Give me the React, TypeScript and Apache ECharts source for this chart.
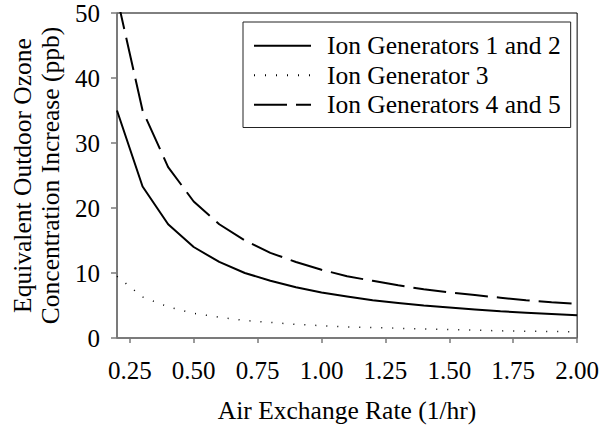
import React, { useEffect, useRef } from "react";
import * as echarts from "echarts";

const rates = [0.2, 0.3, 0.4, 0.5, 0.6, 0.7, 0.8, 0.9, 1.0, 1.1, 1.2, 1.3, 1.4, 1.5, 1.6, 1.7, 1.8, 1.9, 2.0];
const gen12 = [35, 23.3, 17.5, 14, 11.7, 10, 8.8, 7.8, 7, 6.4, 5.8, 5.4, 5, 4.7, 4.4, 4.1, 3.9, 3.7, 3.5];
const gen3 = [9.5, 6.3, 4.8, 3.8, 3.2, 2.7, 2.4, 2.1, 1.9, 1.7, 1.6, 1.5, 1.4, 1.3, 1.2, 1.1, 1.05, 1.0, 0.95];
const gen45 = [52.5, 35, 26.3, 21, 17.5, 15, 13.1, 11.7, 10.5, 9.5, 8.8, 8.1, 7.5, 7, 6.6, 6.2, 5.8, 5.5, 5.25];
const xTicks = [0.25, 0.5, 0.75, 1.0, 1.25, 1.5, 1.75, 2.0];
const seriesNames = ["Ion Generators 1 and 2", "Ion Generator 3", "Ion Generators 4 and 5"];

const FONT = "Liberation Serif";

export default function App() {
  const ref = useRef<HTMLDivElement>(null);
  useEffect(() => {
    if (!ref.current) return;
    const chart = echarts.init(ref.current, undefined, { renderer: "svg" });
    const pair = (vals: number[]) => rates.map((r, i) => [r, vals[i]]);
    const axisColor = "#7a7a7a";
    chart.setOption({
      animation: false,
      backgroundColor: "#fff",
      textStyle: { fontFamily: FONT, color: "#000" },
      grid: {
        left: 116,
        top: 13,
        right: 24,
        bottom: 90,
        show: true,
        borderColor: "#000",
        borderWidth: 1,
        backgroundColor: "transparent",
      },
      legend: {
        orient: "vertical",
        left: 243,
        top: 22,
        padding: [9, 10, 8, 10],
        itemGap: 0,
        itemWidth: 57,
        itemHeight: 14,
        borderColor: "#222",
        borderWidth: 1,
        backgroundColor: "#fff",
        itemStyle: { opacity: 0 },
        textStyle: {
          fontFamily: FONT,
          fontSize: 25.5,
          color: "#000",
          lineHeight: 29.5,
          padding: [0, 0, 0, 11],
        },
        data: seriesNames,
      },
      xAxis: {
        type: "value",
        min: 0.2,
        max: 2.0,
        name: "Air Exchange Rate (1/hr)",
        nameLocation: "middle",
        nameGap: 59,
        nameTextStyle: { fontFamily: FONT, fontSize: 25.5, color: "#000" },
        axisLine: { show: true, lineStyle: { color: axisColor, width: 1.5 } },
        axisTick: { show: true, inside: false, length: 5, customValues: xTicks, lineStyle: { color: axisColor, width: 1.5 } },
        axisLabel: {
          customValues: xTicks,
          formatter: (v: number) => v.toFixed(2),
          fontFamily: FONT,
          fontSize: 25,
          color: "#000",
          margin: 20,
        },
        splitLine: { show: false },
      },
      yAxis: {
        type: "value",
        min: 0,
        max: 50,
        interval: 10,
        name: "Equivalent Outdoor Ozone\nConcentration Increase (ppb)",
        nameLocation: "middle",
        nameRotate: 90,
        nameGap: 53,
        nameTextStyle: {
          fontFamily: FONT,
          fontSize: 25.5,
          color: "#000",
          lineHeight: 28,
        },
        axisLine: { show: true, lineStyle: { color: axisColor, width: 1.5 } },
        axisTick: { show: true, inside: false, length: 6, lineStyle: { color: axisColor, width: 1.5 } },
        axisLabel: { fontFamily: FONT, fontSize: 25, color: "#000", margin: 17 },
        splitLine: { show: false },
      },
      series: [
        {
          name: seriesNames[0],
          type: "line",
          data: pair(gen12),
          showSymbol: false,
          symbol: "none",
          lineStyle: { color: "#000", width: 2, type: "solid" },
          itemStyle: { color: "#000" },
        },
        {
          name: seriesNames[1],
          type: "line",
          data: pair(gen3),
          showSymbol: false,
          symbol: "none",
          lineStyle: { color: "#000", width: 1.5, type: [1, 10] },
          itemStyle: { color: "#000" },
        },
        {
          name: seriesNames[2],
          type: "line",
          data: pair(gen45),
          showSymbol: false,
          symbol: "none",
          clip: true,
          lineStyle: { color: "#000", width: 2, type: [33, 9] },
          itemStyle: { color: "#000" },
        },
      ],
    });
    return () => chart.dispose();
  }, []);
  return <div ref={ref} style={{ width: 602, height: 428, position: "absolute", left: 0, top: 0 }} />;
}
